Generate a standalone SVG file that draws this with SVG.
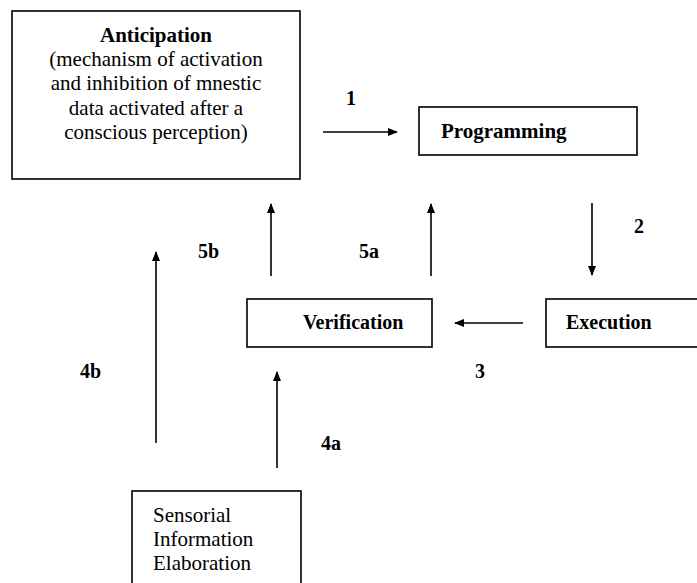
<svg xmlns="http://www.w3.org/2000/svg" width="697" height="583" viewBox="0 0 697 583">
<style>
.box{fill:#fff;stroke:#000;stroke-width:1.6}
.t{font-family:'Liberation Serif','Times New Roman',serif;font-size:21px;fill:#000}
.s{font-size:20px}
.b{font-weight:bold}
.c{stroke:#000;stroke-width:1.6;fill:none;marker-end:url(#ah)}
</style>
<defs>
<marker id="ah" markerWidth="10" markerHeight="8" refX="9" refY="4" orient="auto" markerUnits="userSpaceOnUse">
<path d="M0,0 L10,4 L0,8 Z" fill="#000"/>
</marker>
</defs>
<rect width="697" height="583" fill="#fff"/>
<g id="anticipation">
<rect class="box" x="12" y="11" width="288" height="168"/>
<text class="t" text-anchor="middle" x="156"><tspan class="b" x="156" y="42">Anticipation</tspan><tspan x="156" y="66">(mechanism of activation</tspan><tspan x="156" y="90">and inhibition of mnestic</tspan><tspan x="156" y="115">data activated after a</tspan><tspan x="156" y="139">conscious perception)</tspan></text>
</g>
<g id="programming">
<rect class="box" x="419" y="107" width="218" height="48"/>
<text class="t b" x="441" y="138">Programming</text>
</g>
<g id="verification">
<rect class="box" x="247" y="299" width="185" height="48"/>
<text class="t b s" x="303" y="329">Verification</text>
</g>
<g id="execution">
<rect class="box" x="546" y="299" width="160" height="48"/>
<text class="t b s" x="566" y="329">Execution</text>
</g>
<g id="sensorial">
<rect class="box" x="132" y="491" width="169" height="100"/>
<text class="t"><tspan x="153" y="522">Sensorial</tspan><tspan x="153" y="546">Information</tspan><tspan x="153" y="570">Elaboration</tspan></text>
</g>
<g id="connectors">
<line class="c" x1="323" y1="132" x2="397" y2="132"/>
<line class="c" x1="592" y1="203" x2="592" y2="275"/>
<line class="c" x1="523" y1="323" x2="455" y2="323"/>
<line class="c" x1="431" y1="276" x2="431" y2="204"/>
<line class="c" x1="271" y1="276" x2="271" y2="204"/>
<line class="c" x1="277" y1="468" x2="277" y2="372"/>
<line class="c" x1="156" y1="443" x2="156" y2="252"/>
<g class="t b s">
<text x="346" y="105">1</text>
<text x="634" y="233">2</text>
<text x="475" y="378">3</text>
<text x="321" y="450">4a</text>
<text x="80" y="378">4b</text>
<text x="359" y="258">5a</text>
<text x="198" y="258">5b</text>
</g>
</g>
</svg>
